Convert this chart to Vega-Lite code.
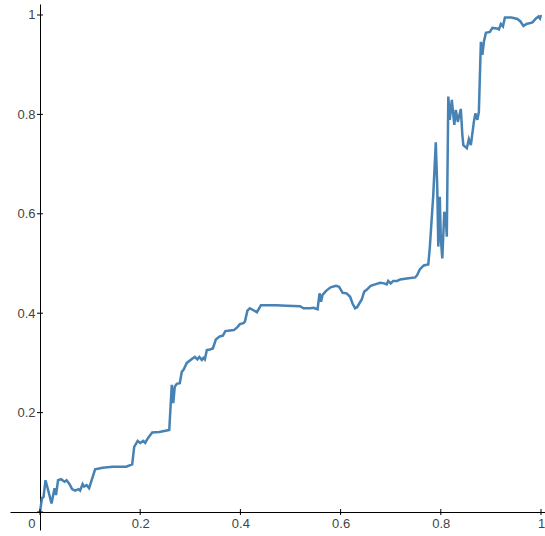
{
  "$schema": "https://vega.github.io/schema/vega-lite/v6.json",
  "width": 535,
  "height": 526,
  "autosize": "none",
  "padding": {"left": 10, "top": 4, "right": 0, "bottom": 6},
  "background": "white",
  "config": {
    "view": {"stroke": null},
    "axis": {"grid": false, "labelFont": "Liberation Sans", "labelFontSize": 13, "labelColor": "#444444", "domainColor": "#000000", "domainWidth": 1, "ticks": false, "tickSize": 0, "title": null, "labelFlush": false, "labelOverlap": false}
  },
  "datasets": {
    "curve": [
      {"x":0,"y":0},{"x":0.004,"y":0.028},{"x":0.007,"y":0.030},{"x":0.011,"y":0.064},{"x":0.017,"y":0.041},{"x":0.023,"y":0.017},{"x":0.029,"y":0.048},{"x":0.032,"y":0.034},{"x":0.036,"y":0.064},{"x":0.042,"y":0.066},{"x":0.049,"y":0.061},{"x":0.053,"y":0.064},{"x":0.059,"y":0.056},{"x":0.064,"y":0.046},{"x":0.070,"y":0.043},{"x":0.077,"y":0.046},{"x":0.080,"y":0.043},{"x":0.085,"y":0.056},{"x":0.088,"y":0.051},{"x":0.093,"y":0.054},{"x":0.098,"y":0.048},{"x":0.110,"y":0.086},{"x":0.125,"y":0.089},{"x":0.145,"y":0.091},{"x":0.172,"y":0.091},{"x":0.184,"y":0.096},{"x":0.188,"y":0.131},{"x":0.195,"y":0.143},{"x":0.200,"y":0.139},{"x":0.206,"y":0.143},{"x":0.210,"y":0.139},{"x":0.215,"y":0.148},{"x":0.224,"y":0.160},{"x":0.238,"y":0.161},{"x":0.253,"y":0.164},{"x":0.258,"y":0.165},{"x":0.263,"y":0.256},{"x":0.266,"y":0.219},{"x":0.269,"y":0.252},{"x":0.273,"y":0.258},{"x":0.279,"y":0.259},{"x":0.283,"y":0.282},{"x":0.287,"y":0.287},{"x":0.293,"y":0.300},{"x":0.303,"y":0.308},{"x":0.309,"y":0.312},{"x":0.314,"y":0.307},{"x":0.318,"y":0.312},{"x":0.323,"y":0.306},{"x":0.326,"y":0.310},{"x":0.329,"y":0.307},{"x":0.333,"y":0.326},{"x":0.339,"y":0.327},{"x":0.345,"y":0.329},{"x":0.351,"y":0.347},{"x":0.358,"y":0.353},{"x":0.365,"y":0.355},{"x":0.370,"y":0.364},{"x":0.379,"y":0.365},{"x":0.387,"y":0.366},{"x":0.394,"y":0.372},{"x":0.399,"y":0.378},{"x":0.406,"y":0.380},{"x":0.409,"y":0.383},{"x":0.414,"y":0.405},{"x":0.419,"y":0.410},{"x":0.426,"y":0.406},{"x":0.433,"y":0.402},{"x":0.441,"y":0.416},{"x":0.452,"y":0.416},{"x":0.472,"y":0.416},{"x":0.492,"y":0.415},{"x":0.519,"y":0.414},{"x":0.526,"y":0.410},{"x":0.539,"y":0.410},{"x":0.546,"y":0.411},{"x":0.554,"y":0.408},{"x":0.558,"y":0.440},{"x":0.561,"y":0.423},{"x":0.564,"y":0.437},{"x":0.571,"y":0.445},{"x":0.580,"y":0.452},{"x":0.591,"y":0.455},{"x":0.597,"y":0.453},{"x":0.604,"y":0.441},{"x":0.612,"y":0.440},{"x":0.619,"y":0.433},{"x":0.624,"y":0.419},{"x":0.629,"y":0.410},{"x":0.633,"y":0.412},{"x":0.637,"y":0.419},{"x":0.642,"y":0.427},{"x":0.647,"y":0.443},{"x":0.652,"y":0.447},{"x":0.660,"y":0.455},{"x":0.669,"y":0.458},{"x":0.679,"y":0.461},{"x":0.687,"y":0.460},{"x":0.692,"y":0.458},{"x":0.695,"y":0.465},{"x":0.700,"y":0.460},{"x":0.705,"y":0.465},{"x":0.713,"y":0.465},{"x":0.719,"y":0.468},{"x":0.732,"y":0.470},{"x":0.749,"y":0.472},{"x":0.753,"y":0.477},{"x":0.758,"y":0.488},{"x":0.766,"y":0.496},{"x":0.775,"y":0.498},{"x":0.778,"y":0.531},{"x":0.785,"y":0.638},{"x":0.790,"y":0.744},{"x":0.793,"y":0.651},{"x":0.795,"y":0.534},{"x":0.798,"y":0.634},{"x":0.800,"y":0.551},{"x":0.803,"y":0.510},{"x":0.807,"y":0.604},{"x":0.810,"y":0.591},{"x":0.812,"y":0.554},{"x":0.815,"y":0.836},{"x":0.818,"y":0.789},{"x":0.822,"y":0.829},{"x":0.827,"y":0.779},{"x":0.830,"y":0.809},{"x":0.834,"y":0.785},{"x":0.840,"y":0.811},{"x":0.843,"y":0.759},{"x":0.845,"y":0.738},{"x":0.852,"y":0.732},{"x":0.856,"y":0.750},{"x":0.860,"y":0.738},{"x":0.866,"y":0.785},{"x":0.869,"y":0.802},{"x":0.873,"y":0.789},{"x":0.876,"y":0.805},{"x":0.880,"y":0.946},{"x":0.883,"y":0.920},{"x":0.886,"y":0.946},{"x":0.890,"y":0.964},{"x":0.898,"y":0.966},{"x":0.903,"y":0.974},{"x":0.912,"y":0.973},{"x":0.916,"y":0.971},{"x":0.920,"y":0.982},{"x":0.924,"y":0.977},{"x":0.928,"y":0.995},{"x":0.941,"y":0.995},{"x":0.953,"y":0.992},{"x":0.959,"y":0.987},{"x":0.965,"y":0.978},{"x":0.971,"y":0.982},{"x":0.983,"y":0.985},{"x":0.990,"y":0.993},{"x":0.995,"y":0.997},{"x":0.998,"y":0.993},{"x":1.0,"y":1.0}
    ],
    "ticks": [{"v":0},{"v":0.2},{"v":0.4},{"v":0.6},{"v":0.8},{"v":1}]
  },
  "layer": [
    {
      "data": {"name": "curve"},
      "mark": {"type": "line", "color": "#4682b4", "strokeWidth": 2.5, "clip": false},
      "encoding": {
        "x": {"field": "x", "type": "quantitative", "scale": {"domain": [-0.0599, 1.008], "nice": false, "zero": false},
              "axis": {"orient": "bottom", "offset": -18, "values": [0, 0.2, 0.4, 0.6, 0.8, 1], "format": "~g", "labelPadding": 5,
                       "labelAlign": {"condition": {"test": "datum.value == 0", "value": "right"}, "value": "center"},
                       "labelOffset": {"condition": {"test": "datum.value == 0", "value": -5}, "value": 0}}},
        "y": {"field": "y", "type": "quantitative", "scale": {"domain": [-0.0362, 1.0221], "nice": false, "zero": false},
              "axis": {"orient": "left", "offset": -30, "values": [0.2, 0.4, 0.6, 0.8, 1], "format": "~g", "labelPadding": 5}}
      }
    },
    {
      "data": {"name": "ticks"},
      "mark": {"type": "tick", "orient": "vertical", "size": 6, "thickness": 1, "color": "#000000", "opacity": 1},
      "encoding": {
        "x": {"field": "v", "type": "quantitative", "scale": {"domain": [-0.0599, 1.008], "nice": false, "zero": false}},
        "y": {"datum": 0, "type": "quantitative", "scale": {"domain": [-0.0362, 1.0221], "nice": false, "zero": false}}
      }
    },
    {
      "data": {"name": "ticks"},
      "mark": {"type": "tick", "orient": "horizontal", "size": 6, "thickness": 1, "color": "#000000", "opacity": 1},
      "encoding": {
        "y": {"field": "v", "type": "quantitative", "scale": {"domain": [-0.0362, 1.0221], "nice": false, "zero": false}},
        "x": {"datum": 0, "type": "quantitative", "scale": {"domain": [-0.0599, 1.008], "nice": false, "zero": false}}
      }
    }
  ]
}
